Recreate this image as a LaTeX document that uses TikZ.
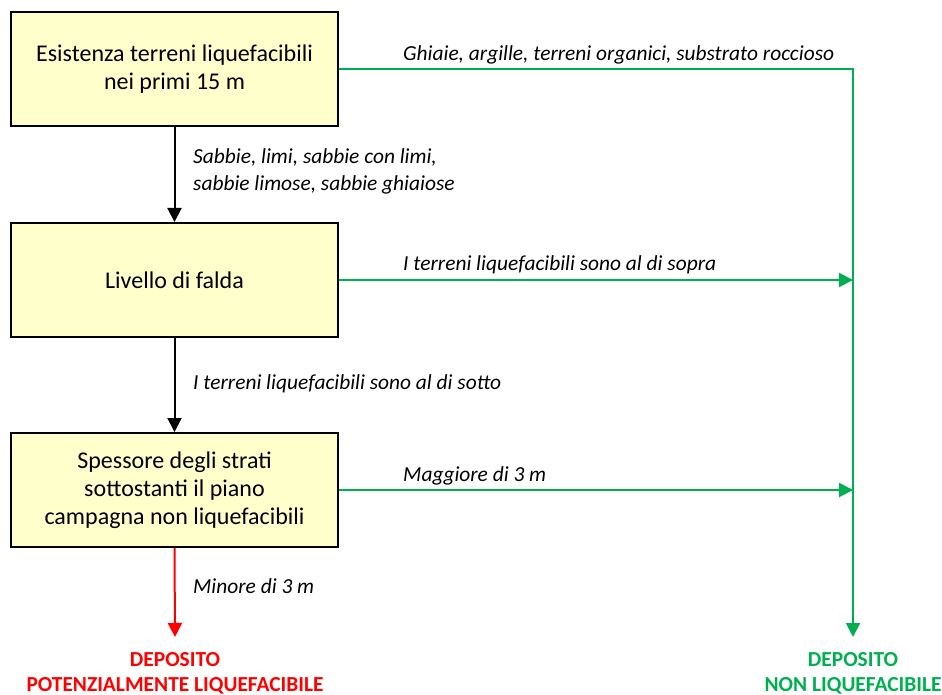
\documentclass[tikz,border=0pt]{standalone}
\usepackage{fontspec}
\setmainfont{Carlito}
\usepackage{tikz}
\usetikzlibrary{positioning,calc,arrows.meta}
\definecolor{BoxYellow}{RGB}{255,255,204}
\definecolor{OkGreen}{RGB}{0,176,80}
\definecolor{RiskRed}{RGB}{255,0,0}

\begin{document}
\begin{tikzpicture}[
    x=1pt, y=-1pt,
    font=\fontsize{24}{28}\selectfont,
    box/.style={
        rectangle,
        draw=black,
        line width=2pt,
        align=center,
        minimum height=114pt,
        minimum width=327pt,
        fill=BoxYellow
    },
    arrow/.style={
        -{Triangle[length=14pt,width=14pt]},
        line width=2pt
    },
    pathlabel/.style={
        font=\fontsize{21.4}{28}\selectfont\itshape,
        align=left,
        anchor=base west,
        inner sep=0pt
    },
    result/.style={
        font=\fontsize{21.4}{25}\selectfont\bfseries,
        align=center,
        anchor=base,
        inner sep=0pt
    }
]
\useasboundingbox (0,0) rectangle (942,695);

\node[box] (exist)  at (174.5,69)  {Esistenza terreni liquefacibili\\nei primi 15 m};
\node[box] (falda)  at (174.5,280) {Livello di falda};
\node[box] (spess)  at (174.5,490) {Spessore degli strati\\sottostanti il piano\\campagna non liquefacibili};

\node[result, text=RiskRed] (risk) at (175,691)
{DEPOSITO\\POTENZIALMENTE LIQUEFACIBILE};
\node[result, text=OkGreen] (safe) at (853,691)
{DEPOSITO\\NON LIQUEFACIBILE};

\coordinate (corner) at (853,69);
\coordinate (join2) at (853,280);
\coordinate (join3) at (853,490);
\coordinate (riskend) at (175,637);
\coordinate (safeend) at (853,637);

% main chain
\draw[arrow] (exist.south) -- (falda.north);
\draw[arrow] (falda.south) -- (spess.north);
\draw[arrow, RiskRed] (spess.south) -- (riskend);

% not liquefiable branch
\draw[arrow, OkGreen] (exist.east) -- (corner) -- (safeend);
\draw[arrow, OkGreen] (falda.east) -- (join2);
\draw[arrow, OkGreen] (spess.east) -- (join3);

\node[pathlabel] at (193,191) {Sabbie, limi, sabbie con limi,\\sabbie limose, sabbie ghiaiose};
\node[pathlabel] at (193,389) {I terreni liquefacibili sono al di sotto};
\node[pathlabel] at (193,593) {Minore di 3 m};
\node[pathlabel] at (403,61)  {Ghiaie, argille, terreni organici, substrato roccioso};
\node[pathlabel] at (403,270) {I terreni liquefacibili sono al di sopra};
\node[pathlabel] at (403,481) {Maggiore di 3 m};

\end{tikzpicture}
\end{document}
